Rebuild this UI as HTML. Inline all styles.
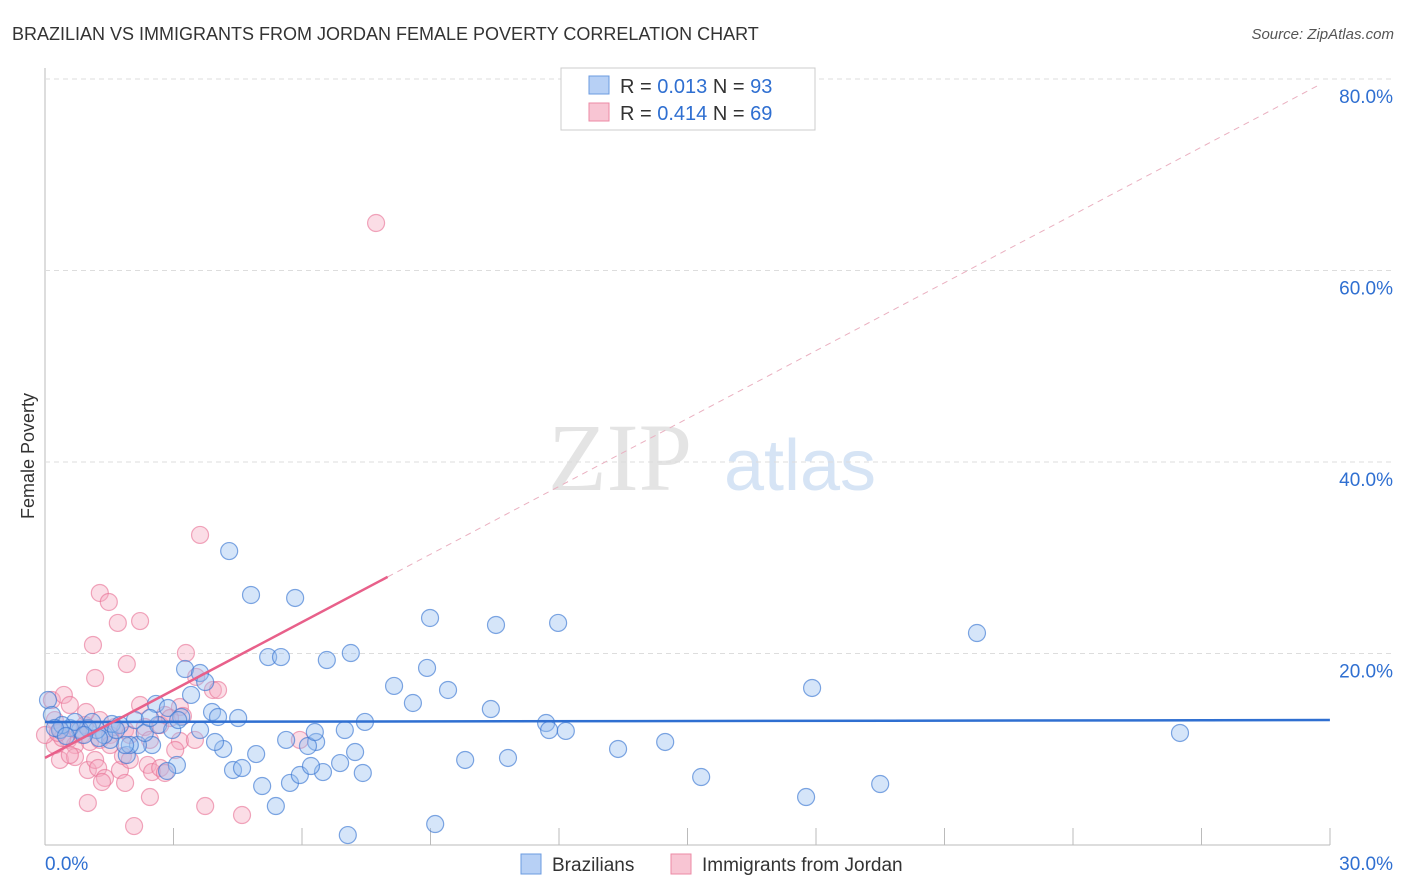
<!DOCTYPE html>
<html><head><meta charset="utf-8"><style>
body{margin:0;background:#fff;font-family:"Liberation Sans",sans-serif;}
svg{display:block}
</style></head><body>
<svg id="c" width="1406" height="892">
<text x="12" y="40" font-size="18" fill="#333">BRAZILIAN VS IMMIGRANTS FROM JORDAN FEMALE POVERTY CORRELATION CHART</text>
<text x="1394" y="39" font-size="15" fill="#555" text-anchor="end" font-style="italic">Source: ZipAtlas.com</text>
<text x="620" y="490" font-size="96" fill="#e4e4e4" font-family="Liberation Serif" text-anchor="middle">ZIP</text>
<text x="800" y="490" font-size="72" fill="#d6e4f5" text-anchor="middle">atlas</text>
<text x="34" y="456" font-size="18" fill="#333" text-anchor="middle" transform="rotate(-90 34 456)">Female Poverty</text>
<g id="grid"></g><g id="pts"></g><g id="lines"></g>
<rect x="561" y="68" width="254" height="62" fill="#fff" stroke="#ccc"/>
<rect x="589" y="76" width="20" height="18" fill="#b7d0f5" stroke="#6b9be0"/>
<rect x="589" y="103" width="20" height="18" fill="#f8c5d3" stroke="#ec8aa6"/>
<text x="620" y="93" font-size="20" fill="#333">R = <tspan fill="#2f6fd1">0.013</tspan>   N = <tspan fill="#2f6fd1">93</tspan></text>
<text x="620" y="120" font-size="20" fill="#333">R = <tspan fill="#2f6fd1">0.414</tspan>   N = <tspan fill="#2f6fd1">69</tspan></text>
<rect x="521" y="854" width="20" height="20" fill="#b7d0f5" stroke="#6b9be0"/>
<text x="552" y="871" font-size="19" fill="#333">Brazilians</text>
<rect x="671" y="854" width="20" height="20" fill="#f8c5d3" stroke="#ec8aa6"/>
<text x="702" y="871" font-size="19" fill="#333">Immigrants from Jordan</text>
</svg>
<script>
const yTicks=[20,40,60,80];
const xTickLabels=["0.0%","30.0%"];
const blueX=[],blueY=[],pinkX=[],pinkY=[];
const bluePx=[[48,700],[52,715],[229,551],[251,595],[295,598],[430,618],[496,625],[558,623],[977,633],[268,657],[281,657],[327,660],[351,653],[185,669],[200,673],[191,695],[205,682],[394,686],[427,668],[448,690],[413,703],[491,709],[812,688],[1180,733],[156,704],[168,708],[181,717],[212,712],[238,718],[218,717],[546,723],[549,730],[566,731],[618,749],[665,742],[701,777],[806,797],[880,784],[435,824],[348,835],[276,806],[262,786],[290,783],[300,775],[323,772],[311,766],[340,763],[355,752],[363,773],[316,742],[308,746],[286,740],[256,754],[233,770],[242,768],[223,749],[215,742],[200,730],[177,765],[167,771],[152,745],[138,745],[127,755],[130,745],[125,745],[110,740],[104,735],[97,730],[88,728],[80,730],[70,728],[60,730],[112,724],[120,725],[135,720],[145,733],[158,725],[172,730],[178,720],[365,722],[345,730],[465,760],[508,758],[315,732],[99,738],[75,722],[62,725],[55,728],[92,722],[84,735],[66,736],[116,730],[150,718]];
const pinkPx=[[376,223],[200,535],[100,593],[109,602],[118,623],[140,621],[93,645],[127,664],[95,678],[186,653],[196,677],[213,690],[218,690],[180,707],[183,716],[160,725],[52,700],[64,695],[70,705],[55,720],[60,730],[68,740],[75,745],[82,735],[90,742],[100,740],[110,735],[115,727],[100,720],[85,725],[125,730],[130,735],[145,727],[150,740],[165,715],[170,718],[180,741],[195,740],[300,740],[60,760],[75,757],[88,770],[95,760],[98,768],[105,778],[120,770],[125,783],[148,765],[152,772],[160,768],[165,773],[70,755],[55,745],[88,803],[102,782],[150,797],[134,826],[205,806],[242,815],[123,756],[130,760],[110,745],[62,738],[45,735],[78,730],[140,705],[175,750],[86,712],[58,733]];
// values (percent)
for(const p of bluePx){blueX.push(+((p[0]-45)/42.83).toFixed(2));blueY.push(+((845-p[1])/9.575).toFixed(2));}
for(const p of pinkPx){pinkX.push(+((p[0]-45)/42.83).toFixed(2));pinkY.push(+((845-p[1])/9.575).toFixed(2));}
const blueFit=[12.85,13.05];
const pinkFit=[9.1,28.0];
const X=v=>45+v*42.83, Y=v=>845-v*9.575;
const NS="http://www.w3.org/2000/svg";
function mk(t,a,parent){const e=document.createElementNS(NS,t);for(const k in a)e.setAttribute(k,a[k]);document.getElementById(parent).appendChild(e);return e;}
mk('line',{x1:45,y1:68,x2:45,y2:845,stroke:'#bbb'},'grid');
mk('line',{x1:45,y1:845,x2:1330,y2:845,stroke:'#bbb'},'grid');
for(const t of yTicks){
 const l=mk('line',{x1:45,y1:Y(t),x2:1394,y2:Y(t),stroke:'#ddd','stroke-dasharray':'5,4'},'grid');
 
 
 const tx=mk('text',{x:1393,y:Y(t)+24,'font-size':19,fill:'#2f6fd1','text-anchor':'end'},'grid');tx.textContent=t.toFixed(1)+'%';
 
 
}
for(let i=1;i<=10;i++){const x=45+i*128.5;mk('line',{x1:x,y1:828,x2:x,y2:845,stroke:'#bbb'},'grid');}
const t0=mk('text',{x:45,y:870,'font-size':19,fill:'#2f6fd1'},'grid');t0.textContent=xTickLabels[0];


const t1=mk('text',{x:1393,y:870,'font-size':19,fill:'#2f6fd1','text-anchor':'end'},'grid');t1.textContent=xTickLabels[1];


for(let i=0;i<pinkX.length;i++){const c=mk('circle',{cx:X(pinkX[i]),cy:Y(pinkY[i]),r:8.5,fill:'rgba(246,170,192,0.4)',stroke:'rgba(232,110,146,0.6)','stroke-width':1.2},'pts');
 
 }
for(let i=0;i<blueX.length;i++){const c=mk('circle',{cx:X(blueX[i]),cy:Y(blueY[i]),r:8.5,fill:'rgba(150,190,240,0.4)',stroke:'rgba(60,120,210,0.65)','stroke-width':1.2},'pts');
 
 }
const bl=mk('line',{x1:X(0),y1:Y(blueFit[0]),x2:X(30),y2:Y(blueFit[1]),stroke:'#2f6fd1','stroke-width':2.5},'lines');


const slope=(pinkFit[1]-pinkFit[0])/8;
const pd=mk('line',{x1:X(8),y1:Y(pinkFit[1]),x2:X(29.8),y2:Y(pinkFit[0]+slope*29.8),stroke:'#eab0c0','stroke-width':1,'stroke-dasharray':'6,5'},'lines');


const pl=mk('line',{x1:X(0),y1:Y(pinkFit[0]),x2:X(8),y2:Y(pinkFit[1]),stroke:'#e8608a','stroke-width':2.5},'lines');


</script>
</body></html>
